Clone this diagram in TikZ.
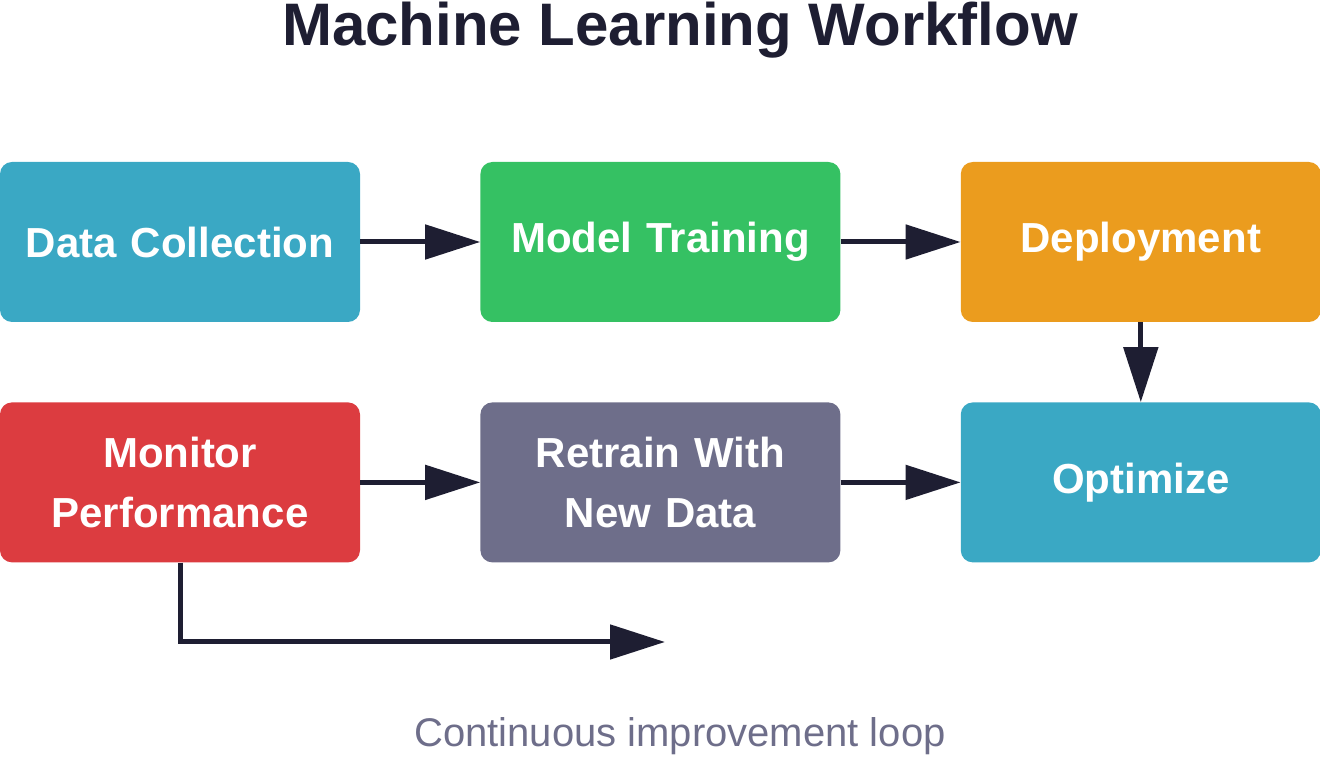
\documentclass[tikz,border=0pt]{standalone}
\usepackage{fontspec}
\setmainfont{Liberation Sans}
\usetikzlibrary{arrows.meta,positioning}
\definecolor{tealbox}{HTML}{3AA8C4}
\definecolor{greenbox}{HTML}{35C163}
\definecolor{orangebox}{HTML}{EB9C1E}
\definecolor{redbox}{HTML}{DC3C40}
\definecolor{slatebox}{HTML}{6E6E8A}
\definecolor{inkcolor}{HTML}{1E1E32}

\begin{document}
\begin{tikzpicture}[x=1pt,y=1pt,
    stage/.style={rounded corners=12pt, minimum width=360pt, minimum height=160pt, text width=340pt, align=center, text=white, font=\fontsize{42}{60}\selectfont\bfseries, inner sep=0pt},
    flow/.style={draw=inkcolor, line width=5pt, -{Triangle[length=55pt,width=34pt]}}
]
    \useasboundingbox (0,0) rectangle (1320,758);

    % Title
    \node[text=inkcolor, font=\fontsize{60}{70}\selectfont\bfseries] (title) at (680,728) {Machine Learning Workflow};

    % Top row
    \node[stage, fill=tealbox] (collect) at (180,516) {Data Collection};
    \node[stage, fill=greenbox, right=120pt of collect] (train) {Model Training};
    \node[stage, fill=orangebox, right=120pt of train] (deploy) {Deployment};

    % Bottom row
    \node[stage, fill=redbox, below=80pt of collect] (monitor) {Monitor\\Performance};
    \node[stage, fill=slatebox, right=120pt of monitor] (retrain) {Retrain With\\New Data};
    \node[stage, fill=tealbox, right=120pt of retrain] (optimize) {Optimize};

    % Connectors
    \draw[flow] (collect) -- (train);
    \draw[flow] (train) -- (deploy);
    \draw[flow] (deploy) -- (optimize);
    \draw[flow] (monitor) -- (retrain);
    \draw[flow] (retrain) -- (optimize);

    % Loop
    \coordinate (loopend) at (665,116);
    \draw[flow] (monitor.south) |- (loopend);

    \node[text=slatebox, font=\fontsize{40}{48}\selectfont] (caption) at (680,22) {Continuous improvement loop};
\end{tikzpicture}
\end{document}
